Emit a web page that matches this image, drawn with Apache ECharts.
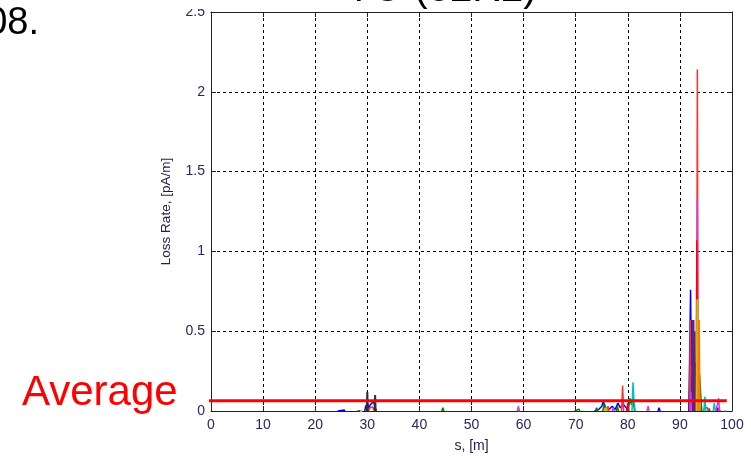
<!DOCTYPE html>
<html>
<head>
<meta charset="utf-8">
<style>
html,body{margin:0;padding:0;background:#fff;}
#chart{width:751px;height:458px;}
</style>
<script src="https://cdn.jsdelivr.net/npm/echarts@6/dist/echarts.min.js"></script>
</head>
<body>
<div id="chart"></div>
<script>
// ---- data (s in m, loss rate in pA/m); null breaks a trace ----
var xTicks = [0, 10, 20, 30, 40, 50, 60, 70, 80, 90, 100];
var yTicks = [0, 0.5, 1, 1.5, 2, 2.5];

var blueS = [24.3,24.4,25.6,25.7, null, 28.4,28.6,28.8, null, 29.5,29.7,30.0,30.3,30.6,30.9,31.2,31.5,31.7, null, 73.6,74.4,75.0,75.3,75.7,76.4,77.0,77.6,78.1,78.6,79.2,79.7,80.1, null, 85.8,86.0,86.2, null, 91.7,91.85,92.05,92.2,92.35,92.55,92.75,93.0,93.3,93.6,93.9, null, 97.0,97.2,97.4];
var blueV = [0,0.006,0.006,0, null, 0,0.008,0, null, 0,0.03,0.05,0.02,0.04,0.03,0.06,0.05,0, null, 0,0.01,0.03,0.06,0.02,0.01,0.03,0.01,0.05,0.02,0.04,0.02,0, null, 0,0.02,0, null, 0,0.3,0.76,0.28,0.57,0.12,0.2,0.05,0.1,0.04,0, null, 0,0.02,0];

var greenS = [28.0,28.2,28.4, null, 44.3,44.5,44.7, null, 69.8,70.0,70.6,70.8, null, 73.8,74.0,74.2, null, 75.2,75.5,75.8, null, 77.8,78.0,78.2, null, 80.1,80.4,80.7,81.0,81.3, null, 91.9,92.1,92.3,92.5,92.7, null, 93.4,93.6,93.8,94.0,94.2, null, 95.4,95.6,95.8];
var greenV = [0,0.01,0, null, 0,0.02,0, null, 0,0.012,0.012,0, null, 0,0.02,0, null, 0,0.05,0, null, 0,0.03,0, null, 0,0.08,0.04,0.06,0, null, 0,0.1,0.04,0.12,0, null, 0,0.25,0.22,0.1,0, null, 0,0.015,0];

var redAS = [20.0,20.1,20.2, null, 30.2,30.5,31.0,31.3,31.5, null, 58.9,59.1,59.3, null, 76.0,76.2,76.4, null, 78.8,79.0,79.2, null, 91.85,92.0,92.15, null, 93.2,93.35,93.5, null, 94.5,94.7,95.3,95.5, null, 97.3,97.5,97.7];
var redAV = [0,0.006,0, null, 0,0.02,0.025,0.02,0, null, 0,0.012,0, null, 0,0.03,0, null, 0,0.16,0, null, 0,0.57,0, null, 0,2.14,0, null, 0,0.02,0.02,0, null, 0,0.02,0];

var magentaS = [58.8,59.0,59.2, null, 77.0,77.2,77.4, null, 83.7,83.9,84.1, null, 92.0,92.1,92.2, null, 93.25,93.35,93.45, null, 96.9,97.1,97.3,97.45,97.6];
var magentaV = [0,0.03,0, null, 0,0.02,0, null, 0,0.03,0, null, 0,0.12,0, null, 0,1.34,0, null, 0,0.03,0.05,0.08,0];

var redBS = [79.8,80.0,80.2, null, 93.1,93.25,93.4];
var redBV = [0,0.05,0, null, 0,1.07,0];

var yellowS = [28.6,28.8,29.0, null, 75.6,75.8,76.0, null, 93.2,93.35,93.5];
var yellowV = [0,0.01,0, null, 0,0.02,0, null, 0,0.70,0];

var orangeS = [93.5,93.65,93.8];
var orangeV = [0,0.57,0];

var purpleS = [92.3,92.4,92.5,92.6,92.7,92.8,92.9];
var purpleV = [0,0.57,0,0.57,0,0.5,0];

var blackS = [29.9,30.0,30.1, null, 31.4,31.5,31.6, null, 92.6,92.7,92.8,92.9,93.0,93.1];
var blackV = [0,0.12,0, null, 0,0.1,0, null, 0,0.3,0.05,0.3,0.1,0];

var cyanS = [80.8,81.0,81.2,81.4, null, 92.6,92.75,92.9, null, 94.6,94.8,95.0, null, 96.4,96.6,96.8, null, 98.5,98.7,98.9];
var cyanV = [0,0.18,0.06,0, null, 0,0.15,0, null, 0,0.09,0, null, 0,0.05,0, null, 0,0.01,0];

var averageValue = 0.065;
var averageSpan = [-2.5, 99];

// ---- build ----
function pts(S, V) {
  var out = [];
  for (var i = 0; i < S.length; i++) {
    if (S[i] === null || V[i] === null) out.push([S[i - 1], '-']);
    else out.push([S[i], V[i]]);
  }
  return out;
}
function trace(name, S, V, color, w) {
  return {
    name: name, type: 'line', data: pts(S, V), showSymbol: false, symbol: 'none',
    connectNulls: false, animation: false,
    lineStyle: { color: color, width: w || 1.5 }, z: 3
  };
}
var tickColor = '#262660';
var fontFam = '"Liberation Sans", Arial, sans-serif';

var chart = echarts.init(document.getElementById('chart'), null, { renderer: 'canvas' });
chart.setOption({
  animation: false,
  backgroundColor: '#ffffff',
  grid: { left: 211, right: 19, top: 12, bottom: 44, containLabel: false },
  graphic: [
    { type: 'rect', shape: { x: 183, y: 0, width: 26, height: 9 }, z: 20,
      style: { fill: '#ffffff' } },
    { type: 'text', x: 441, y: -10, z: 10,
      style: { text: 'YO (02R2)', font: '40px ' + fontFam, fill: '#000', align: 'center', verticalAlign: 'middle' } },
    { type: 'text', x: 39, y: 24, z: 10,
      style: { text: '2008.', font: '38px ' + fontFam, fill: '#000', align: 'right', verticalAlign: 'middle' } },
    { type: 'text', x: 22, y: 393, z: 10,
      style: { text: 'Average', font: '42px ' + fontFam, fill: '#ff0000', align: 'left', verticalAlign: 'middle' } }
  ],
  xAxis: [
    { type: 'value', position: 'bottom', min: xTicks[0], max: xTicks[xTicks.length - 1], interval: 10,
      name: 's, [m]', nameLocation: 'middle', nameGap: 28,
      nameTextStyle: { color: '#202050', fontSize: 14, fontFamily: fontFam },
      axisLine: { show: true, onZero: false, lineStyle: { color: '#222', width: 1 } },
      axisTick: { show: true, inside: true, length: 5, lineStyle: { color: '#222' } },
      axisLabel: { show: true, color: tickColor, fontSize: 14, fontFamily: fontFam, margin: 7 },
      splitLine: { show: true, lineStyle: { color: '#000', type: [3, 3], width: 1 } } },
    { type: 'value', position: 'top', min: xTicks[0], max: xTicks[xTicks.length - 1], interval: 10,
      axisLine: { show: true, onZero: false, lineStyle: { color: '#222', width: 1 } },
      axisTick: { show: true, inside: true, length: 5, lineStyle: { color: '#222' } },
      axisLabel: { show: false }, splitLine: { show: false } }
  ],
  yAxis: [
    { type: 'value', position: 'left', min: yTicks[0], max: yTicks[yTicks.length - 1], interval: 0.5,
      name: 'Loss Rate, [pA/m]', nameLocation: 'middle', nameGap: 38, nameRotate: 90,
      nameTextStyle: { color: '#202050', fontSize: 13.5, fontFamily: fontFam },
      axisLine: { show: true, onZero: false, lineStyle: { color: '#222', width: 1 } },
      axisTick: { show: true, inside: true, length: 5, lineStyle: { color: '#222' } },
      axisLabel: { show: true, color: tickColor, fontSize: 14, fontFamily: fontFam, margin: 6 },
      splitLine: { show: true, lineStyle: { color: '#000', type: [3, 3], width: 1 } } },
    { type: 'value', position: 'right', min: yTicks[0], max: yTicks[yTicks.length - 1], interval: 0.5,
      axisLine: { show: true, onZero: false, lineStyle: { color: '#222', width: 1 } },
      axisTick: { show: true, inside: true, length: 5, lineStyle: { color: '#222' } },
      axisLabel: { show: false }, splitLine: { show: false } }
  ],
  series: [
    trace('blue', blueS, blueV, '#0000ff'),
    trace('green', greenS, greenV, '#008000'),
    trace('redA', redAS, redAV, '#ff3030'),
    trace('cyan', cyanS, cyanV, '#00c0c0'),
    trace('black', blackS, blackV, '#303030', 2),
    trace('purple', purpleS, purpleV, '#4b2a8a', 2),
    trace('magenta', magentaS, magentaV, '#d040e0'),
    trace('redB', redBS, redBV, '#ff0000'),
    trace('yellow', yellowS, yellowV, '#c8c000', 2),
    trace('orange', orangeS, orangeV, '#ff7a00', 2),
    { name: 'Average', type: 'line', clip: false, showSymbol: false, symbol: 'none', z: 5,
      data: [[averageSpan[0], averageValue], [averageSpan[1], averageValue]],
      lineStyle: { color: '#ff0000', width: 3 } }
  ]
});
</script>
</body>
</html>
